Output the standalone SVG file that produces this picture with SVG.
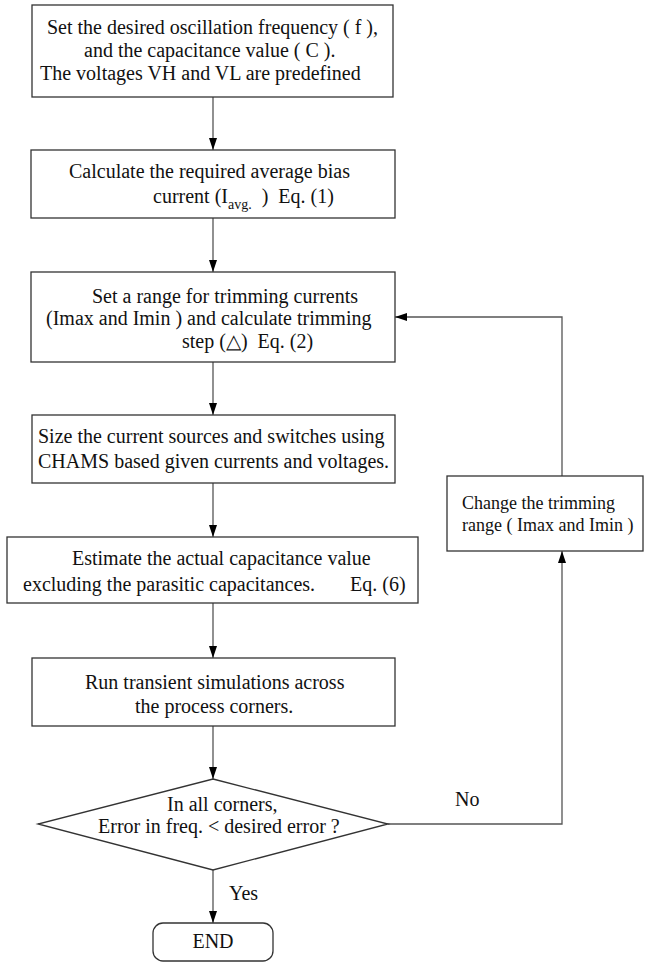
<svg xmlns="http://www.w3.org/2000/svg" width="669" height="963" viewBox="0 0 669 963">
<style>
.box{fill:#fff;stroke:#333;stroke-width:1.3}
.t{font-family:"Liberation Serif","Times New Roman",serif;font-size:20px;fill:#111;white-space:pre}
.sm{font-size:18px}
.sub{font-size:14px}
.c{fill:none;stroke:#555;stroke-width:1.3}
</style>
<defs>
<marker id="ah" markerWidth="12" markerHeight="8" refX="12" refY="4" orient="auto" markerUnits="userSpaceOnUse">
<path d="M0,0 L12,4 L0,8 Z" fill="#000"/>
</marker>
</defs>
<rect width="669" height="963" fill="#fff"/>
<g id="connectors">
<line class="c" x1="213" y1="97" x2="213" y2="150" marker-end="url(#ah)"/>
<line class="c" x1="213" y1="218" x2="213" y2="272" marker-end="url(#ah)"/>
<line class="c" x1="213" y1="362" x2="213" y2="415" marker-end="url(#ah)"/>
<line class="c" x1="213" y1="483" x2="213" y2="537" marker-end="url(#ah)"/>
<line class="c" x1="213" y1="603" x2="213" y2="658" marker-end="url(#ah)"/>
<line class="c" x1="213" y1="726" x2="213" y2="779" marker-end="url(#ah)"/>
<line class="c" x1="213" y1="870" x2="213" y2="923" marker-end="url(#ah)"/>
<polyline class="c" points="388,824 562,824 562,551" marker-end="url(#ah)"/>
<polyline class="c" points="562,476 562,317 395,317" marker-end="url(#ah)"/>
<text class="t" x="229" y="900">Yes</text>
<text class="t" x="455" y="806">No</text>
</g>
<g id="n1">
<rect class="box" x="32" y="5" width="361" height="92"/>
<text class="t" x="47" y="34">Set the desired oscillation frequency ( f ),</text>
<text class="t" x="84" y="57">and the capacitance value ( C ).</text>
<text class="t" x="40" y="80">The voltages VH and VL are predefined</text>
</g>
<g id="n2">
<rect class="box" x="31" y="150" width="364" height="68"/>
<text class="t" x="69" y="178">Calculate the required average bias</text>
<text class="t" x="153" y="203">current (I<tspan class="sub" dy="6">avg.</tspan><tspan dy="-6">  )  Eq. (1)</tspan></text>
</g>
<g id="n3">
<rect class="box" x="31" y="272" width="364" height="90"/>
<text class="t" x="92" y="303">Set a range for trimming currents</text>
<text class="t" x="46" y="325">(Imax and Imin ) and calculate trimming</text>
<text class="t" x="182" y="348">step (△)  Eq. (2)</text>
</g>
<g id="n4">
<rect class="box" x="32" y="415" width="363" height="68"/>
<text class="t" x="38" y="443">Size the current sources and switches using</text>
<text class="t" x="38" y="468">CHAMS based given currents and voltages.</text>
</g>
<g id="n5">
<rect class="box" x="7" y="537" width="411" height="66"/>
<text class="t" x="72" y="565">Estimate the actual capacitance value</text>
<text class="t" x="23" y="591">excluding the parasitic capacitances.</text>
<text class="t" x="350" y="591">Eq. (6)</text>
</g>
<g id="n6">
<rect class="box" x="32" y="658" width="363" height="68"/>
<text class="t" x="85" y="689">Run transient simulations across</text>
<text class="t" x="135" y="713">the process corners.</text>
</g>
<g id="n7">
<polygon class="box" points="213,779 388,824 213,870 38,824"/>
<text class="t" x="167" y="811">In all corners,</text>
<text class="t" x="98" y="833">Error in freq. &lt; desired error ?</text>
</g>
<g id="n8">
<rect class="box" x="153" y="923" width="120" height="38" rx="10"/>
<text class="t" x="213" y="948" text-anchor="middle">END</text>
</g>
<g id="n9">
<rect class="box" x="447" y="476" width="196" height="75"/>
<text class="t sm" x="462" y="509">Change the trimming</text>
<text class="t sm" x="462" y="531">range ( Imax and Imin )</text>
</g>
</svg>
